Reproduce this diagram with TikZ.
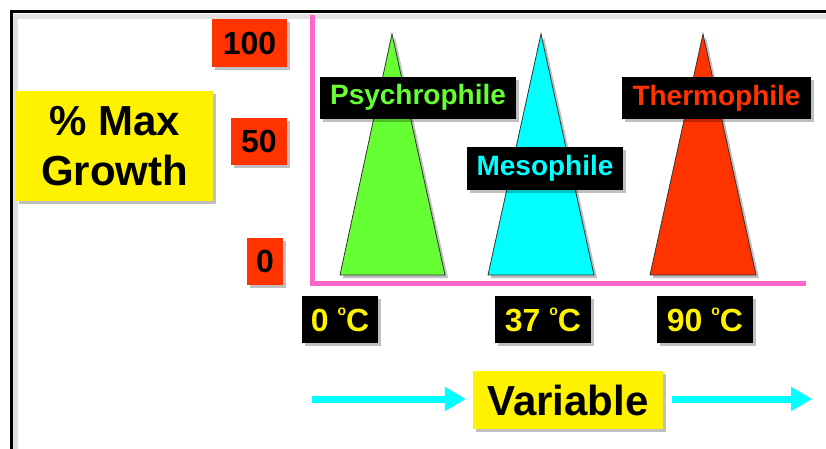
\documentclass[tikz,border=0pt]{standalone}
\usepackage{fontspec}
\setmainfont{Liberation Sans}
\usetikzlibrary{positioning,shadows,arrows.meta}
\definecolor{hotred}{HTML}{FF3300}
\definecolor{psygreen}{HTML}{66FF33}
\definecolor{mesocyan}{HTML}{00FFFF}
\definecolor{axispink}{HTML}{FF66CC}
\newcommand{\degc}{\ \raisebox{0.5em}{\fontsize{14}{14}\selectfont o}C}
\tikzset{
  shade/.style={drop shadow={shadow xshift=3pt,shadow yshift=-3pt,opacity=.25,fill=black}},
  box/.style={shade, inner sep=0pt, align=center, font=\bfseries\fontsize{32}{38}\selectfont},
  redbox/.style={box, fill=hotred, text=black},
  tag/.style={box, fill=black, font=\bfseries\fontsize{28}{32}\selectfont,
    minimum height=42pt},
  tempbox/.style={box, fill=black, text=yellow, minimum height=47pt},
  tri/.style={shade, draw=black!80, line width=.8pt},
  varrow/.style={mesocyan, line width=7pt, -{Triangle[length=21pt,width=23pt]}}
}
\begin{document}
\begin{tikzpicture}[x=1pt,y=-1pt]
  \clip (0,0) rectangle (826,448);
  % frame
  \draw[black!12, line width=5pt] (15.5,460) |- (840,16);
  \draw[line width=3pt] (11,460) |- (840,11.5);
  % triangles
  \path[tri, fill=psygreen] (340,275) -- (392,34) -- (445,275) -- cycle;
  \path[tri, fill=mesocyan] (488,275) -- (541,34) -- (594,275) -- cycle;
  \path[tri, fill=hotred] (650,275) -- (703,34) -- (756,275) -- cycle;
  % axes
  \coordinate (ytop) at (312,15);
  \coordinate (xend) at (806,283);
  \draw[axispink, line width=5pt] (ytop) |- (xend);
  % y labels
  \node (n100)[redbox, minimum width=75pt, minimum height=48pt] at (249.5,43) {100};
  \node (n50)[redbox, minimum width=56pt, minimum height=47pt] at (259,141.5) {50};
  \node (n0)[redbox, minimum width=36pt, minimum height=47pt] at (265,261.5) {0};
  \node (growth)[box, fill=yellow, minimum width=197pt, minimum height=110pt,
    font=\bfseries\fontsize{42}{50}\selectfont] at (114.5,146) {\% Max\\Growth};
  % organisms
  \node (psy)[tag, text=psygreen, minimum width=196pt] at (418,97.5) {Psychrophile};
  \node (meso)[tag, text=mesocyan, minimum width=156pt, minimum height=43pt] at (545,168.5) {Mesophile};
  \node (thermo)[tag, text=hotred, minimum width=189pt] at (716.5,98) {Thermophile};
  % temperatures
  \node (t0)[tempbox, minimum width=76pt] at (340,319.5) {0\degc};
  \node (t37)[tempbox, minimum width=96pt] at (543,319.5) {37\degc};
  \node (t90)[tempbox, minimum width=96pt] at (705,319.5) {90\degc};
  % variable
  \node (var)[box, fill=yellow, minimum width=190pt, minimum height=58pt,
    font=\bfseries\fontsize{42}{50}\selectfont] at (568,400) {Variable};
  \coordinate (a0) at (312,399);
  \coordinate (a1) at (812,399);
  \draw[varrow, shorten >=7pt] (a0) -- (var.west |- a0);
  \draw[varrow, shorten <=9pt] (var.east |- a1) -- (a1);
\end{tikzpicture}
\end{document}
